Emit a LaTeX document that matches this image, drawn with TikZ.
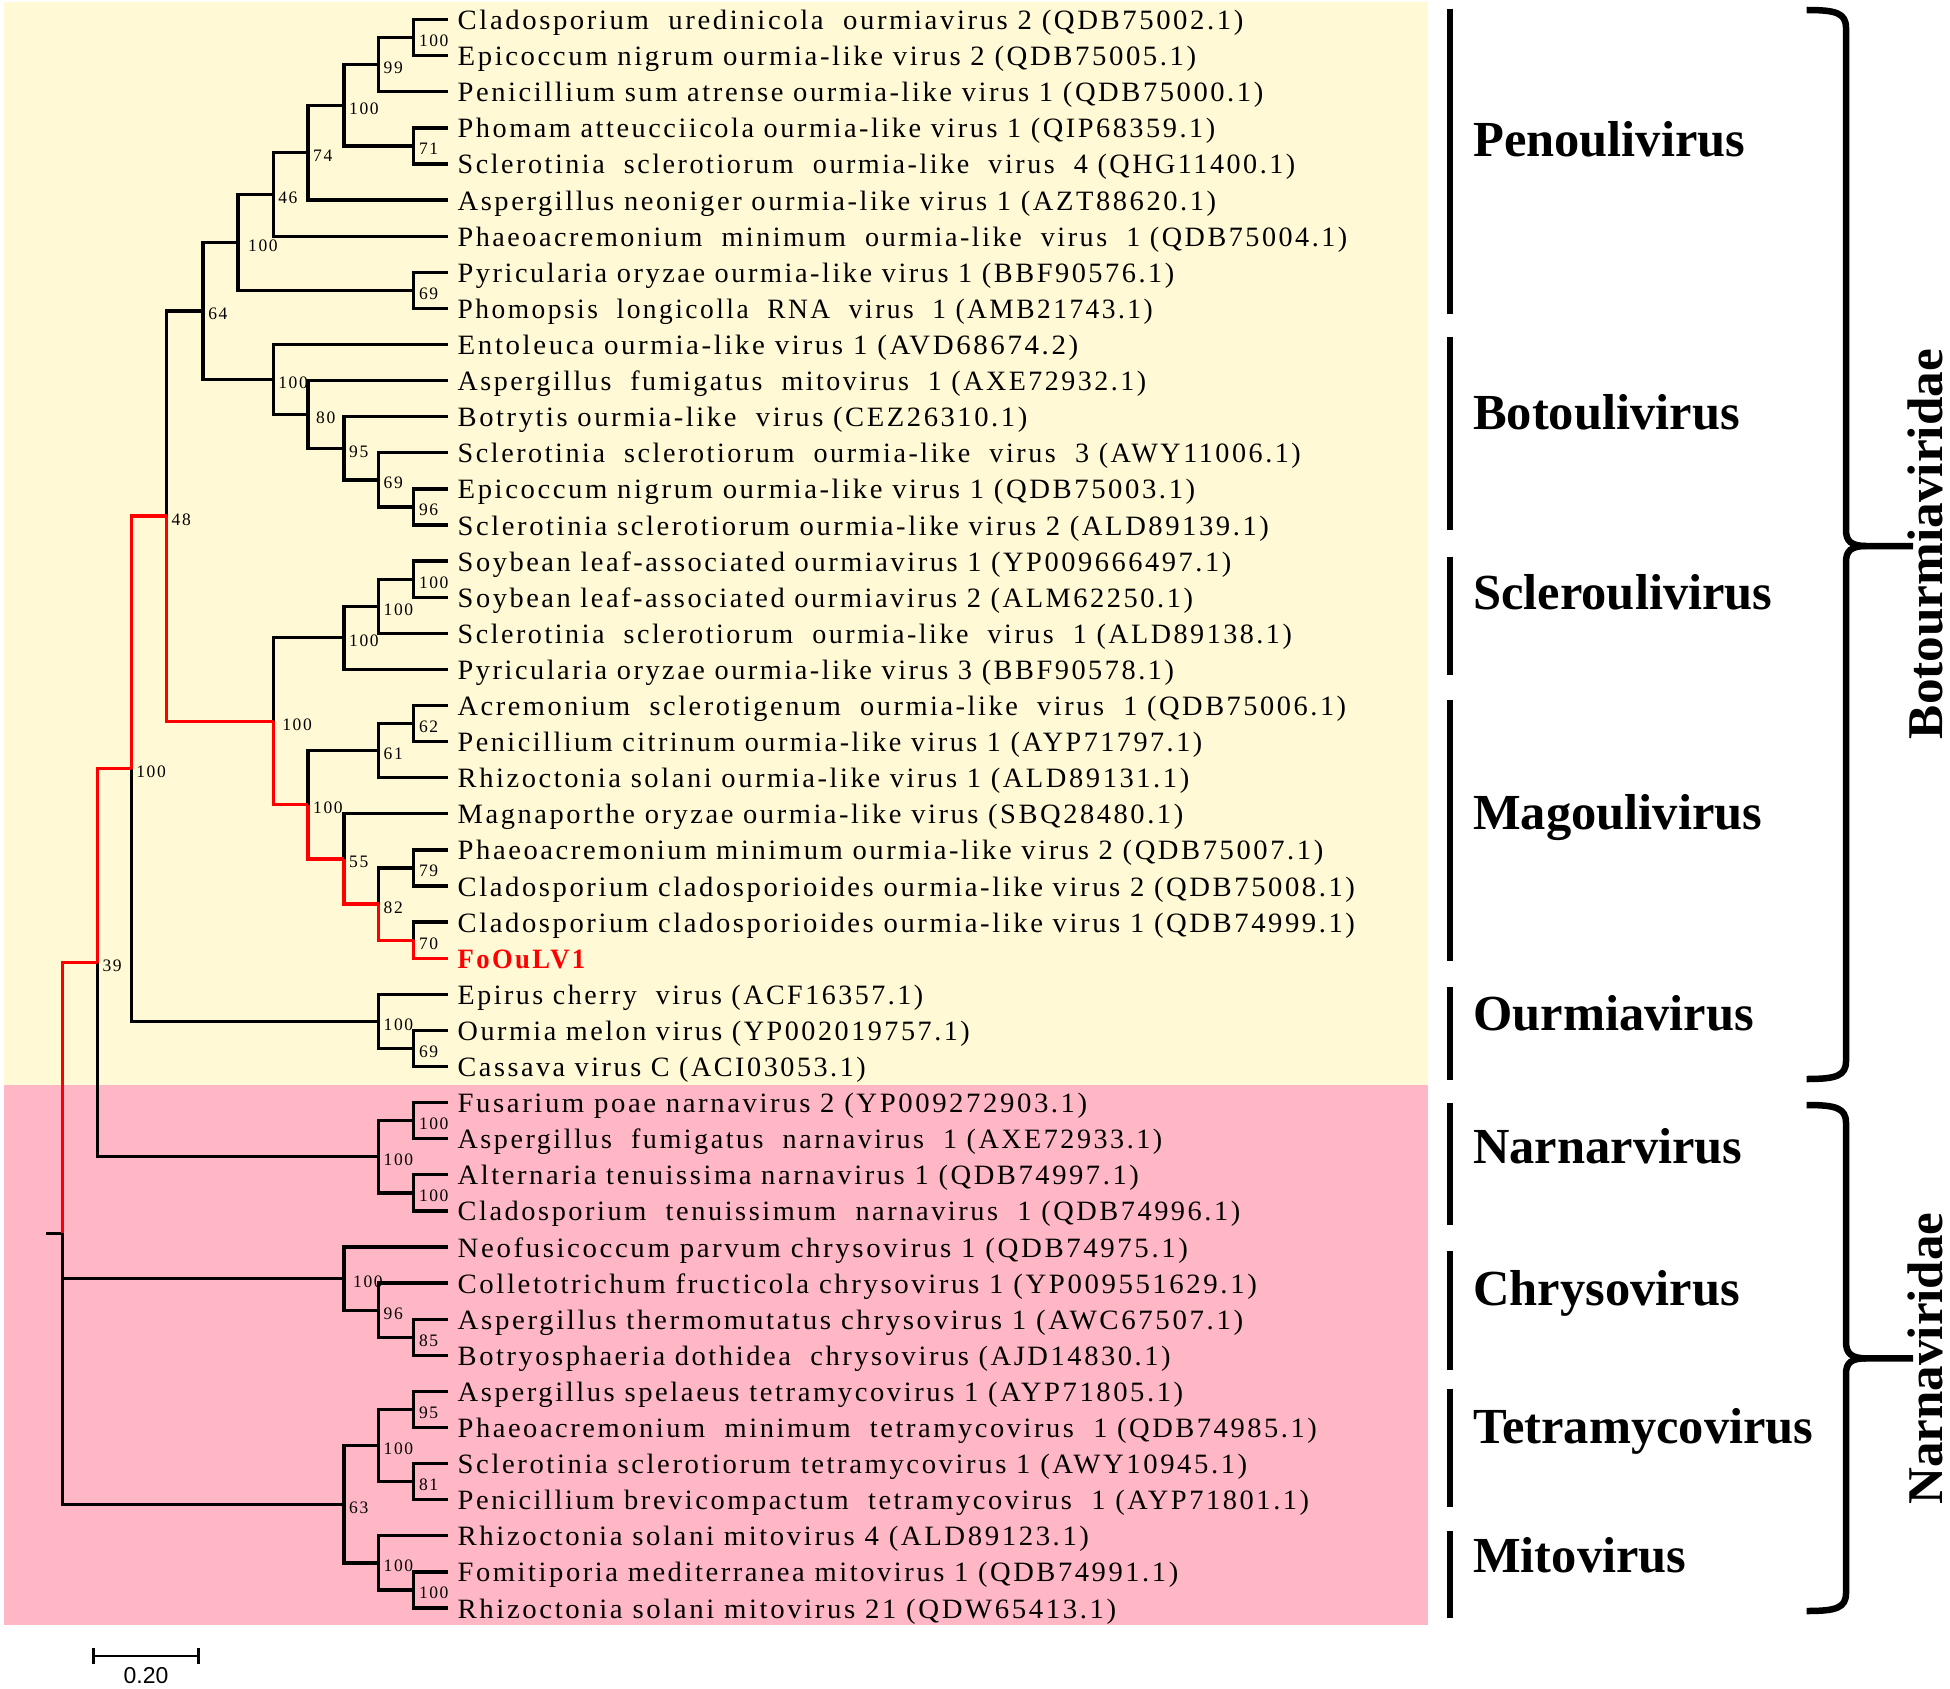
\documentclass[tikz,border=0pt]{standalone}
\usepackage{fontspec}
\usepackage{graphicx}
\setmainfont{Liberation Serif}
\newfontfamily\leaffont{Liberation Serif}[LetterSpace=9]
\newfontfamily\sbfont{Liberation Sans}
\definecolor{bgY}{RGB}{255,249,213}
\definecolor{bgP}{RGB}{255,183,197}
\definecolor{hl}{RGB}{255,0,0}
\tikzset{
  br/.style={line width=3.3pt, black},
  brr/.style={line width=3.3pt, hl},
  leaflab/.style={anchor=base west, inner sep=0pt, font=\leaffont\fontsize{28}{30}\selectfont},
  bs/.style={anchor=base west, inner sep=0pt, font=\leaffont\fontsize{17.5}{18}\selectfont, xshift=5pt, yshift=-9pt},
  genus/.style={anchor=base west, inner sep=0pt, font=\bfseries\fontsize{50.5}{52}\selectfont},
  family/.style={anchor=base, inner sep=0pt, rotate=90, font=\bfseries\fontsize{50}{52}\selectfont},
  gbar/.style={line width=6pt, black},
  bracepath/.style={line width=6.5pt, black},
  sbar/.style={line width=2.5pt, black}
}
\newcommand{\leafnode}[4]{%
  \coordinate (L#1) at (447.8,#2);
  \node[leaflab] (T#1) at (457.5,#2+10) {\resizebox{#3pt}{\height}{#4}};
}
\newcommand{\ed}[2]{\draw[br] (#1) |- (#2);}
\newcommand{\edr}[2]{\draw[brr] (#1) |- (#2);}
\begin{document}
\begin{tikzpicture}[x=1pt,y=-1pt]
\path[use as bounding box] (0,0) rectangle (1950,1688);
% backgrounds
\fill[bgY] (3.6,1.8) rectangle (1428,1085);
\fill[bgP] (3.6,1085) rectangle (1428,1624.5);

% leaves
\leafnode{1}{19.6}{785.7}{Cladosporium\ \ uredinicola\ \ ourmiavirus 2 (QDB75002.1)}
\leafnode{2}{55.7}{738.5}{Epicoccum nigrum ourmia-like virus 2 (QDB75005.1)}
\leafnode{3}{91.8}{805.5}{Penicillium sum atrense ourmia-like virus 1 (QDB75000.1)}
\leafnode{4}{127.9}{757.5}{Phomam atteucciicola ourmia-like virus 1 (QIP68359.1)}
\leafnode{5}{164.0}{837.5}{Sclerotinia\ \ sclerotiorum\ \ ourmia-like\ \ virus\ \ 4 (QHG11400.1)}
\leafnode{6}{200.1}{758.5}{Aspergillus neoniger ourmia-like virus 1 (AZT88620.1)}
\leafnode{7}{236.2}{889.5}{Phaeoacremonium\ \ minimum\ \ ourmia-like\ \ virus\ \ 1 (QDB75004.1)}
\leafnode{8}{272.3}{716.5}{Pyricularia oryzae ourmia-like virus 1 (BBF90576.1)}
\leafnode{9}{308.4}{695.1}{Phomopsis\ \ longicolla\ \ RNA\ \ virus\ \ 1 (AMB21743.1)}
\leafnode{10}{344.5}{620.5}{Entoleuca ourmia-like virus 1 (AVD68674.2)}
\leafnode{11}{380.6}{688.5}{Aspergillus\ \ fumigatus\ \ mitovirus\ \ 1 (AXE72932.1)}
\leafnode{12}{416.7}{569.5}{Botrytis ourmia-like\ \ virus (CEZ26310.1)}
\leafnode{13}{452.8}{843.1}{Sclerotinia\ \ sclerotiorum\ \ ourmia-like\ \ virus\ \ 3 (AWY11006.1)}
\leafnode{14}{488.9}{737.5}{Epicoccum nigrum ourmia-like virus 1 (QDB75003.1)}
\leafnode{15}{525.0}{811.2}{Sclerotinia sclerotiorum ourmia-like virus 2 (ALD89139.1)}
\leafnode{16}{561.1}{773.5}{Soybean leaf-associated ourmiavirus 1 (YP009666497.1)}
\leafnode{17}{597.2}{735.3}{Soybean leaf-associated ourmiavirus 2 (ALM62250.1)}
\leafnode{18}{633.3}{834.1}{Sclerotinia\ \ sclerotiorum\ \ ourmia-like\ \ virus\ \ 1 (ALD89138.1)}
\leafnode{19}{669.4}{716.2}{Pyricularia oryzae ourmia-like virus 3 (BBF90578.1)}
\leafnode{20}{705.5}{888.4}{Acremonium\ \ sclerotigenum\ \ ourmia-like\ \ virus\ \ 1 (QDB75006.1)}
\leafnode{21}{741.6}{744.5}{Penicillium citrinum ourmia-like virus 1 (AYP71797.1)}
\leafnode{22}{777.7}{731.5}{Rhizoctonia solani ourmia-like virus 1 (ALD89131.1)}
\leafnode{23}{813.8}{725.5}{Magnaporthe oryzae ourmia-like virus (SBQ28480.1)}
\leafnode{24}{849.9}{865.5}{Phaeoacremonium minimum ourmia-like virus 2 (QDB75007.1)}
\leafnode{25}{886.0}{897.3}{Cladosporium cladosporioides ourmia-like virus 2 (QDB75008.1)}
\leafnode{26}{922.1}{897.3}{Cladosporium cladosporioides ourmia-like virus 1 (QDB74999.1)}
\leafnode{27}{958.2}{127.5}{\bfseries\color{hl}FoOuLV1}
\leafnode{28}{994.3}{465.5}{Epirus cherry\ \ virus (ACF16357.1)}
\leafnode{29}{1030.4}{512.1}{Ourmia melon virus (YP002019757.1)}
\leafnode{30}{1066.5}{408.1}{Cassava virus C (ACI03053.1)}
\leafnode{31}{1102.6}{629.5}{Fusarium poae narnavirus 2 (YP009272903.1)}
\leafnode{32}{1138.7}{704.5}{Aspergillus\ \ fumigatus\ \ narnavirus\ \ 1 (AXE72933.1)}
\leafnode{33}{1174.8}{681.1}{Alternaria tenuissima narnavirus 1 (QDB74997.1)}
\leafnode{34}{1210.9}{782.5}{Cladosporium\ \ tenuissimum\ \ narnavirus\ \ 1 (QDB74996.1)}
\leafnode{35}{1247.0}{730.2}{Neofusicoccum parvum chrysovirus 1 (QDB74975.1)}
\leafnode{36}{1283.1}{799.1}{Colletotrichum fructicola chrysovirus 1 (YP009551629.1)}
\leafnode{37}{1319.2}{785.5}{Aspergillus thermomutatus chrysovirus 1 (AWC67507.1)}
\leafnode{38}{1355.3}{713.0}{Botryosphaeria dothidea\ \ chrysovirus (AJD14830.1)}
\leafnode{39}{1391.4}{725.5}{Aspergillus spelaeus tetramycovirus 1 (AYP71805.1)}
\leafnode{40}{1427.5}{859.0}{Phaeoacremonium\ \ minimum\ \ tetramycovirus\ \ 1 (QDB74985.1)}
\leafnode{41}{1463.6}{789.5}{Sclerotinia sclerotiorum tetramycovirus 1 (AWY10945.1)}
\leafnode{42}{1499.7}{851.4}{Penicillium brevicompactum\ \ tetramycovirus\ \ 1 (AYP71801.1)}
\leafnode{43}{1535.8}{631.3}{Rhizoctonia solani mitovirus 4 (ALD89123.1)}
\leafnode{44}{1571.9}{720.5}{Fomitiporia mediterranea mitovirus 1 (QDB74991.1)}
\leafnode{45}{1608.0}{658.5}{Rhizoctonia solani mitovirus 21 (QDW65413.1)}

% internal nodes
\coordinate (a1) at (413.8,37.65);
\coordinate (a2) at (378.5,64.73);
\coordinate (a3) at (413.8,145.95);
\coordinate (a4) at (344.0,105.34);
\coordinate (a5) at (308.0,152.72);
\coordinate (a6) at (273.2,194.46);
\coordinate (a7) at (413.8,290.35);
\coordinate (a8) at (238.0,242.4);
\coordinate (b1) at (413.8,506.95);
\coordinate (b2) at (378.5,479.88);
\coordinate (b3) at (344.0,448.29);
\coordinate (b4) at (308.0,414.45);
\coordinate (b5) at (273.2,379.47);
\coordinate (c64) at (203.1,310.94);
\coordinate (s1) at (413.8,579.15);
\coordinate (s2) at (378.5,606.23);
\coordinate (s3) at (344.0,637.81);
\coordinate (m1) at (413.8,723.55);
\coordinate (m2) at (378.5,750.63);
\coordinate (m3) at (413.8,867.95);
\coordinate (m4) at (413.8,940.15);
\coordinate (m5) at (378.5,904.05);
\coordinate (m6) at (344.0,858.93);
\coordinate (m7) at (308.0,804.78);
\coordinate (sm) at (273.2,721.3);
\coordinate (n48) at (166.5,516.12);
\coordinate (o1) at (413.8,1048.45);
\coordinate (o2) at (378.5,1021.38);
\coordinate (n100) at (131.2,768.75);
\coordinate (r1) at (413.8,1120.65);
\coordinate (r2) at (413.8,1192.85);
\coordinate (r3) at (378.5,1156.75);
\coordinate (n39) at (97.3,962.75);
\coordinate (h1) at (413.8,1337.25);
\coordinate (h2) at (378.5,1310.18);
\coordinate (h3) at (344.0,1278.59);
\coordinate (t1) at (413.8,1409.45);
\coordinate (t2) at (413.8,1481.65);
\coordinate (t3) at (378.5,1445.55);
\coordinate (i1) at (413.8,1589.95);
\coordinate (i2) at (378.5,1562.88);
\coordinate (n63) at (344.0,1504.21);
\coordinate (root) at (62.5,1233.48);
\coordinate (stub) at (46,1233.48);

% black branches
\ed{a1}{L1}\ed{a1}{L2}\ed{a2}{a1}\ed{a2}{L3}
\ed{a3}{L4}\ed{a3}{L5}\ed{a4}{a2}\ed{a4}{a3}
\ed{a5}{a4}\ed{a5}{L6}\ed{a6}{a5}\ed{a6}{L7}
\ed{a7}{L8}\ed{a7}{L9}\ed{a8}{a6}\ed{a8}{a7}
\ed{b1}{L14}\ed{b1}{L15}\ed{b2}{L13}\ed{b2}{b1}
\ed{b3}{L12}\ed{b3}{b2}\ed{b4}{L11}\ed{b4}{b3}
\ed{b5}{L10}\ed{b5}{b4}\ed{c64}{a8}\ed{c64}{b5}
\ed{s1}{L16}\ed{s1}{L17}\ed{s2}{s1}\ed{s2}{L18}
\ed{s3}{s2}\ed{s3}{L19}
\ed{m1}{L20}\ed{m1}{L21}\ed{m2}{m1}\ed{m2}{L22}
\ed{m3}{L24}\ed{m3}{L25}\ed{m4}{L26}\ed{m5}{m3}
\ed{m6}{L23}\ed{m7}{m2}\ed{sm}{s3}\ed{n48}{c64}
\ed{o1}{L29}\ed{o1}{L30}\ed{o2}{L28}\ed{o2}{o1}
\ed{n100}{o2}
\ed{r1}{L31}\ed{r1}{L32}\ed{r2}{L33}\ed{r2}{L34}
\ed{r3}{r1}\ed{r3}{r2}\ed{n39}{r3}
\ed{h1}{L37}\ed{h1}{L38}\ed{h2}{L36}\ed{h2}{h1}
\ed{h3}{L35}\ed{h3}{h2}
\ed{t1}{L39}\ed{t1}{L40}\ed{t2}{L41}\ed{t2}{L42}
\ed{t3}{t1}\ed{t3}{t2}
\ed{i1}{L44}\ed{i1}{L45}\ed{i2}{L43}\ed{i2}{i1}
\ed{n63}{t3}\ed{n63}{i2}
\ed{root}{h3}\ed{root}{n63}
\draw[br] (stub) -- (root);

% red path
\edr{root}{n39}\edr{n39}{n100}\edr{n100}{n48}\edr{n48}{sm}
\edr{sm}{m7}\edr{m7}{m6}\edr{m6}{m5}\edr{m5}{m4}\edr{m4}{L27}

% bootstrap values
\node[bs] (a1b) at (a1) {100};
\node[bs] (a2b) at (a2) {99};
\node[bs] (a3b) at (a3) {71};
\node[bs] (a4b) at (a4) {100};
\node[bs] (a5b) at (a5) {74};
\node[bs] (a6b) at (a6) {46};
\node[bs] (a7b) at (a7) {69};
\node[bs,xshift=5pt] (a8b) at (a8) {100};
\node[bs] (b1b) at (b1) {96};
\node[bs] (b2b) at (b2) {69};
\node[bs] (b3b) at (b3) {95};
\node[bs,xshift=3pt] (b4b) at (b4) {80};
\node[bs] (b5b) at (b5) {100};
\node[bs] (c64b) at (c64) {64};
\node[bs] (n48b) at (n48) {48};
\node[bs] (s1b) at (s1) {100};
\node[bs] (s2b) at (s2) {100};
\node[bs] (s3b) at (s3) {100};
\node[bs] (m1b) at (m1) {62};
\node[bs] (m2b) at (m2) {61};
\node[bs] (m3b) at (m3) {79};
\node[bs] (m4b) at (m4) {70};
\node[bs] (m5b) at (m5) {82};
\node[bs] (m6b) at (m6) {55};
\node[bs] (m7b) at (m7) {100};
\node[bs,xshift=4pt] (smb) at (sm) {100};
\node[bs] (o1b) at (o1) {69};
\node[bs] (o2b) at (o2) {100};
\node[bs] (n100b) at (n100) {100};
\node[bs] (r1b) at (r1) {100};
\node[bs] (r2b) at (r2) {100};
\node[bs] (r3b) at (r3) {100};
\node[bs] (n39b) at (n39) {39};
\node[bs] (h1b) at (h1) {85};
\node[bs] (h2b) at (h2) {96};
\node[bs,xshift=4pt] (h3b) at (h3) {100};
\node[bs] (t1b) at (t1) {95};
\node[bs] (t2b) at (t2) {81};
\node[bs] (t3b) at (t3) {100};
\node[bs] (i1b) at (i1) {100};
\node[bs] (i2b) at (i2) {100};
\node[bs] (n63b) at (n63) {63};

% genus bars
\draw[gbar] (1449.8,8.6) -- (1449.8,314);
\draw[gbar] (1449.8,337) -- (1449.8,529.6);
\draw[gbar] (1449.8,556.5) -- (1449.8,675);
\draw[gbar] (1449.8,699.7) -- (1449.8,961.3);
\draw[gbar] (1449.8,987) -- (1449.8,1079.7);
\draw[gbar] (1449.8,1103) -- (1449.8,1225);
\draw[gbar] (1449.8,1251) -- (1449.8,1370);
\draw[gbar] (1449.8,1388.7) -- (1449.8,1507);
\draw[gbar] (1449.8,1530.8) -- (1449.8,1618);

% genus labels
\node[genus] (gPen) at (1473,157) {Penoulivirus};
\node[genus] (gBot) at (1473,429.5) {Botoulivirus};
\node[genus] (gScl) at (1473,609.5) {Scleroulivirus};
\node[genus] (gMag) at (1473,829) {Magoulivirus};
\node[genus] (gOur) at (1473,1030) {Ourmiavirus};
\node[genus] (gNar) at (1473,1163) {Narnarvirus};
\node[genus] (gChr) at (1473,1305.5) {Chrysovirus};
\node[genus] (gTet) at (1473,1443.5) {Tetramycovirus};
\node[genus] (gMit) at (1473,1572) {Mitovirus};

% braces
\draw[bracepath] (1806.7,10) .. controls (1836,10) and (1846,13) .. (1846,28)
  -- (1846,530) .. controls (1846,541) and (1851,546) .. (1866,546) -- (1913,546);
\draw[bracepath] (1806.7,1079) .. controls (1836,1079) and (1846,1076) .. (1846,1061)
  -- (1846,562) .. controls (1846,551) and (1851,546) .. (1866,546);
\draw[bracepath] (1806.7,1105) .. controls (1836,1105) and (1846,1108) .. (1846,1123)
  -- (1846,1342) .. controls (1846,1353) and (1851,1358.3) .. (1866,1358.3) -- (1913,1358.3);
\draw[bracepath] (1806.7,1611) .. controls (1836,1611) and (1846,1608) .. (1846,1593)
  -- (1846,1374) .. controls (1846,1363) and (1851,1358.3) .. (1866,1358.3);

% family labels
\node[family] (fBot) at (1942,544) {\resizebox{390pt}{\height}{Botourmiaviridae}};
\node[family] (fNar) at (1942,1358.5) {\resizebox{292pt}{\height}{Narnaviridae}};

% scale bar
\coordinate (sb1) at (93.7,1656);
\coordinate (sb2) at (198.6,1656);
\draw[sbar] (sb1) -- (sb2);
\draw[sbar] ([yshift=8pt]sb1) -- ([yshift=-8pt]sb1);
\draw[sbar] ([yshift=8pt]sb2) -- ([yshift=-8pt]sb2);
\node[inner sep=0pt, font=\sbfont\fontsize{23}{24}\selectfont] (sbl) at (146,1676) {0.20};
\end{tikzpicture}
\end{document}
